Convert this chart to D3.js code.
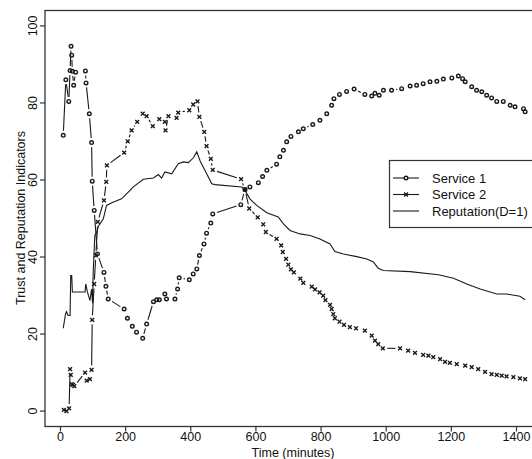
<!DOCTYPE html>
<html><head><meta charset="utf-8">
<script src="https://cdn.jsdelivr.net/npm/d3@7"></script>
<style>body{margin:0;background:#fff}svg{display:block}text{font-family:"Liberation Sans",Arial,sans-serif;fill:#111}</style>
</head><body><svg id="c" width="532" height="459"></svg>
<script>
const xTicks=[0,200,400,600,800,1000,1200,1400];
const yTicks=[0,20,40,60,80,100];
const seriesNames=["Service 1","Service 2","Reputation(D=1)"];
const s1T=[10,18,27,31,34,36,38,42,48,78,80,90,97,99,105,115,135,141,148,197,207,222,235,254,266,287,297,305,322,327,353,361,366,397,409,420,428,442,450,463,469,555,568,583,609,622,635,665,675,686,696,709,732,747,776,798,819,834,841,858,880,903,936,957,967,980,993,1018,1049,1075,1095,1115,1136,1157,1177,1203,1223,1236,1244,1264,1279,1295,1310,1325,1341,1361,1382,1397,1423,1428];
const s1V=[71.6,86,80.4,88.4,94.7,92.4,88.2,84.6,88,88.3,85.2,77.2,69.7,59.7,52.1,40.8,36,32.4,29.1,26.5,24.1,22,20.5,18.9,22.6,28.4,28.9,28.9,30.4,29.1,29.1,31.7,34.6,34.1,35.6,36.9,40.4,43.4,46.2,48.8,51.2,53.6,57.5,58.2,59.3,60.9,62.5,64.1,66,67.7,69.9,71.3,72.5,73.3,74.4,75.5,77.2,79.4,81.1,82.2,83,83.6,82.2,81.8,82.5,82,83.3,83.3,83.7,84.4,84.6,85,85.5,85.6,86.2,86.5,87,86.3,85.5,84.2,83.3,82.9,82,81.3,80.4,80.4,79.4,79,78.5,77.7];
const s2T=[12,20,28,31,33,36,40,44,77,82,92,97,99,105,110,116,135,142,144,197,208,220,237,254,266,285,305,322,324,333,358,363,397,409,422,428,443,450,463,469,556,568,581,607,624,632,665,679,684,694,701,709,718,738,747,773,783,797,808,815,829,834,839,844,858,872,890,909,936,957,967,977,991,1044,1069,1090,1115,1131,1146,1167,1182,1197,1218,1244,1264,1284,1305,1325,1341,1356,1371,1392,1412,1428];
const s2V=[0.3,0,0.7,10.9,9.4,7,6.8,6.5,10,7.9,8.3,10.7,23.7,33,40.4,49.1,54.7,59.5,63.8,67.1,70,72.9,75.1,77.2,76.6,74,75.8,75.1,72.9,76.6,76.1,77.5,78.1,79.6,80.4,76.4,72.5,68.8,65.5,62.6,60.2,57.5,52.6,50.3,48.5,46.5,44.7,43,41.3,39.5,38,36.8,36,34.4,33.3,32.3,31.6,30.8,30,28.8,27.6,26.5,25.2,24.1,23.2,22.4,21.8,21.5,20.9,19.6,18.3,17.4,16.3,16.3,15.7,15.1,14.6,14.4,14,13.5,12.8,12.5,12.2,11.8,11.4,10.9,10.2,9.6,9.4,9.2,9,8.8,8.5,8.3];
const repT=[10,17,20,25,31,33,36,38,77,79,84,92,97,100,102,104,107,113,118,133,143,159,189,215,225,256,287,302,312,322,343,363,379,394,409,420,430,466,476,558,568,583,604,635,670,686,706,737,768,798,829,844,870,911,942,962,977,993,1075,1162,1208,1249,1290,1341,1371,1412,1428];
const repV=[21.5,25.2,25.8,24.8,24.8,35.2,35.2,30.9,30.9,33,31,28.7,31.7,28,36,40,45.6,46.5,48,49.9,53.4,54.1,55.1,57.3,58.2,60.2,60.5,61.4,60.5,62.1,61.6,64.2,64.7,64.5,65.7,67.3,65,59,58.8,58.2,57.3,55.1,53.4,51.5,50.4,48.6,46.9,46,45.6,44.7,43.4,41.4,40.8,40.1,39.5,38.7,37.1,36.5,36.2,35.4,34.5,33,31.7,30.4,30.4,29.8,28.9];

const svg=d3.select("#c");
const x=d3.scaleLinear().domain([-46,1466]).range([45,537.5]);
const y=d3.scaleLinear().domain([-4,104]).range([426.5,10.5]);
const ink="#1a1a1a";
const FONT="Liberation Sans, Arial, sans-serif";

svg.append("rect").attr("x",45).attr("y",10.5).attr("width",492.5).attr("height",416)
  .attr("fill","none").attr("stroke","#333").attr("stroke-width",1.3);

const xa=svg.append("g").attr("transform","translate(0,426.5)")
  .call(d3.axisBottom(x).tickValues(xTicks).tickFormat(d3.format("d")).tickSize(5).tickSizeOuter(0).tickPadding(1));
xa.select(".domain").remove();
xa.selectAll("line").attr("stroke","#333").attr("stroke-width",1.2);
xa.selectAll("text").attr("font-size",12.5).attr("fill","#111").style("font-family",FONT);

const ya=svg.append("g").attr("transform","translate(45,0)")
  .call(d3.axisLeft(y).tickValues(yTicks).tickFormat(d3.format("d")).tickSize(5).tickSizeOuter(0));
ya.select(".domain").remove();
ya.selectAll(".tick").attr("transform","translate(0,0)");
ya.selectAll(".tick line").attr("stroke","#333").attr("stroke-width",1.2)
  .each(function(d){d3.select(this).attr("y1",y(d)).attr("y2",y(d));});
ya.selectAll(".tick text").attr("font-size",12.5).attr("fill","#111").style("font-family",FONT)
  .attr("text-anchor","middle").attr("dy",null).attr("x",0).attr("y",0)
  .attr("transform",d=>`translate(-8,${y(d)}) rotate(-90)`);

svg.append("text").attr("x",293).attr("y",457).attr("text-anchor","middle").attr("font-size",12.5).text("Time (minutes)");
svg.append("text").attr("transform","translate(25,218) rotate(-90)").attr("text-anchor","middle").attr("font-size",12.5).text("Trust and Reputation Indicators");

function gapLines(T,V,gap){
  const g=svg.append("g").attr("stroke",ink).attr("stroke-width",1.1).attr("fill","none");
  for(let i=0;i<T.length-1;i++){
    const x1=x(T[i]),y1=y(V[i]),x2=x(T[i+1]),y2=y(V[i+1]);
    const d=Math.hypot(x2-x1,y2-y1);
    if(d>2*gap+1){
      const ux=(x2-x1)/d,uy=(y2-y1)/d;
      g.append("line").attr("x1",x1+ux*gap).attr("y1",y1+uy*gap).attr("x2",x2-ux*gap).attr("y2",y2-uy*gap);
    }
  }
}
gapLines(s1T,s1V,4.5);
gapLines(s2T,s2V,4.5);
svg.append("g").selectAll("circle").data(s1T).join("circle")
  .attr("cx",d=>x(d)).attr("cy",(d,i)=>y(s1V[i])).attr("r",1.8).attr("fill","none").attr("stroke",ink).attr("stroke-width",1.4);
function xmark(g,cx,cy,s){
  g.append("path").attr("d",`M${cx-s},${cy-s}L${cx+s},${cy+s}M${cx-s},${cy+s}L${cx+s},${cy-s}`);
}
const gx=svg.append("g").attr("stroke",ink).attr("stroke-width",1.4).attr("fill","none");
s2T.forEach((t,i)=>xmark(gx,x(t),y(s2V[i]),1.9));
const line=d3.line().x(d=>x(d[0])).y(d=>y(d[1]));
svg.append("path").datum(repT.map((t,i)=>[t,repV[i]])).attr("d",line).attr("fill","none").attr("stroke",ink).attr("stroke-width",1.1);

const lg=svg.append("g");
lg.append("rect").attr("x",389.5).attr("y",160.5).attr("width",160).attr("height",67).attr("fill","#fff").attr("stroke","#333").attr("stroke-width",1.2);
const rows=[178,194.5,211];
seriesNames.forEach((n,i)=>{
  const yy=rows[i];
  lg.append("line").attr("x1",393).attr("x2",419).attr("y1",yy).attr("y2",yy).attr("stroke",ink).attr("stroke-width",1.1);
  if(i===0) lg.append("circle").attr("cx",406).attr("cy",yy).attr("r",1.8).attr("fill","#fff").attr("stroke",ink).attr("stroke-width",1.4);
  if(i===1){const gg=lg.append("g").attr("stroke",ink).attr("stroke-width",1.4);xmark(gg,406,yy,1.9);}
  lg.append("text").attr("x",432).attr("y",yy+4.5).attr("font-size",13).text(n);
});
</script></body></html>
